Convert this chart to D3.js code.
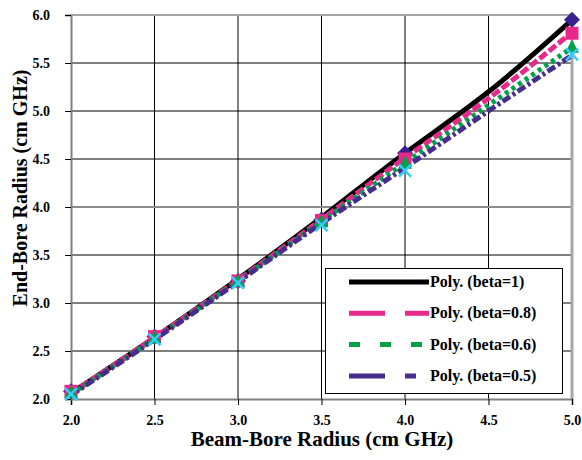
<!DOCTYPE html>
<html><head><meta charset="utf-8">
<script src="https://cdn.jsdelivr.net/npm/d3@7"></script>
<style>body{margin:0;background:#fff}svg{display:block}text{font-family:"Liberation Serif","Times New Roman",serif;font-weight:bold}</style>
</head><body>
<script>
// Marker data
const xVals = [2.0, 2.5, 3.0, 3.5, 4.0, 5.0];
const beta1 = [2.08, 2.65, 3.23, 3.87, 4.56, 5.95];
const beta08 = [2.08, 2.65, 3.23, 3.86, 4.50, 5.81];
const beta06 = [2.06, 2.63, 3.22, 3.84, 4.45, 5.66];
const beta05 = [2.05, 2.62, 3.21, 3.81, 4.38, 5.59];
// Polynomial trendlines
const xTrend = [2.0, 2.5, 3.0, 3.5, 4.0, 4.5, 5.0];
const trend1 = [2.06, 2.64, 3.25, 3.89, 4.56, 5.20, 5.95];
const trend08 = [2.06, 2.64, 3.24, 3.87, 4.51, 5.13, 5.82];
const trend06 = [2.05, 2.63, 3.23, 3.85, 4.46, 5.06, 5.66];
const trend05 = [2.04, 2.62, 3.22, 3.83, 4.41, 5.00, 5.58];
const xTicks = [2.0, 2.5, 3.0, 3.5, 4.0, 4.5, 5.0];
const yTicks = [2.0, 2.5, 3.0, 3.5, 4.0, 4.5, 5.0, 5.5, 6.0];
const legendLabels = ["Poly. (beta=1)", "Poly. (beta=0.8)", "Poly. (beta=0.6)", "Poly. (beta=0.5)"];

const W = 582, H = 460;
const L = 71, R = 572, T = 15, B = 399;
const svg = d3.select("body").append("svg").attr("width", W).attr("height", H);
const x = d3.scaleLinear().domain([2, 5]).range([L, R]);
const y = d3.scaleLinear().domain([2, 6]).range([B, T]);

// gridlines
const g = svg.append("g");
xTicks.slice(1, -1).forEach(v => g.append("line").attr("x1", x(v)).attr("x2", x(v)).attr("y1", T).attr("y2", B).attr("stroke", "#000").attr("stroke-width", 1));
yTicks.slice(1, -1).forEach(v => g.append("line").attr("x1", L).attr("x2", R).attr("y1", y(v)).attr("y2", y(v))
  .attr("stroke", v === 4.0 ? "#8c8c8c" : "#000").attr("stroke-width", v === 4.0 ? 2 : 1));
// frame
g.append("line").attr("x1", L).attr("x2", R).attr("y1", T).attr("y2", T).attr("stroke", "#a6a6a6").attr("stroke-width", 2);
g.append("line").attr("x1", R).attr("x2", R).attr("y1", T).attr("y2", B).attr("stroke", "#a6a6a6").attr("stroke-width", 3);

// axes
const xAxis = svg.append("g").attr("transform", `translate(0,${B})`)
  .call(d3.axisBottom(x).tickValues(xTicks).tickFormat(d3.format(".1f")).tickSize(6).tickPadding(10));
const yAxis = svg.append("g").attr("transform", `translate(${L},0)`)
  .call(d3.axisLeft(y).tickValues(yTicks).tickFormat(d3.format(".1f")).tickSize(6).tickPadding(15));
[xAxis, yAxis].forEach(a => {
  a.select(".domain").attr("stroke", "#808080").attr("stroke-width", 2);
  a.selectAll(".tick line").attr("stroke", "#000");
  a.selectAll("text").attr("font-size", 14).attr("fill", "#000")
    .style("font-family", '"Liberation Serif","Times New Roman",serif').style("font-weight", "bold");
});

// trendlines
const series = [
  {t: trend1, m: beta1, color: "#000000", dash: null, w: 5, sym: "diamond", mcolor: "#3a2090"},
  {t: trend08, m: beta08, color: "#e8288a", dash: "9,3", w: 5, sym: "square", mcolor: "#e8288a"},
  {t: trend06, m: beta06, color: "#00a046", dash: "4,4", w: 5, sym: "triangle", mcolor: "#00a046"},
  {t: trend05, m: beta05, color: "#472c8e", dash: "9,3,3,3", w: 5, sym: "x", mcolor: "#33ccff"}
];
const symPaths = {
  diamond: "M0,-8L8,0L0,8L-8,0Z",
  square: "M-6.5,-6.5H6.5V6.5H-6.5Z",
  triangle: "M0,-8L7,5H-7Z"
};
const line = d3.line().x(d => x(d[0])).y(d => y(d[1])).curve(d3.curveNatural);
series.forEach(s => {
  svg.append("path").datum(xTrend.map((v, i) => [v, s.t[i]]))
    .attr("d", line).attr("fill", "none").attr("stroke", s.color).attr("stroke-width", s.w)
    .attr("stroke-dasharray", s.dash);
});
// markers
series.forEach(s => {
  const pts = xVals.map((v, i) => [v, s.m[i]]);
  const sel = svg.append("g").selectAll("path").data(pts).join("path")
    .attr("transform", d => `translate(${x(d[0])},${y(d[1])})`);
  if (s.sym !== "x") {
    sel.attr("d", symPaths[s.sym]).attr("fill", s.mcolor);
  } else {
    sel.attr("d", "M-6,-6L6,6M-6,6L6,-6").attr("stroke", s.mcolor).attr("stroke-width", 2.5).attr("fill", "none");
  }
});

// legend
const lg = svg.append("g");
lg.append("rect").attr("x", 325.5).attr("y", 268.5).attr("width", 237).attr("height", 125)
  .attr("fill", "#fff").attr("stroke", "#000").attr("stroke-width", 1);
const legendDash = [null, "36,20", "11,20", "36,20,11,20"];
legendLabels.forEach((lab, i) => {
  const yy = 282 + i * 31.3;
  lg.append("line").attr("x1", 349).attr("x2", 429).attr("y1", yy).attr("y2", yy)
    .attr("stroke", series[i].color).attr("stroke-width", 5).attr("stroke-dasharray", legendDash[i]);
  lg.append("text").attr("x", 430).attr("y", yy + 5).attr("font-size", 16).text(lab);
});

// axis titles
svg.append("text").attr("x", 322).attr("y", 446).attr("text-anchor", "middle").attr("font-size", 21)
  .text("Beam-Bore Radius (cm GHz)");
svg.append("text").attr("transform", "translate(27,188) rotate(-90)").attr("text-anchor", "middle").attr("font-size", 20)
  .text("End-Bore Radius  (cm GHz)");
</script>
</body></html>
